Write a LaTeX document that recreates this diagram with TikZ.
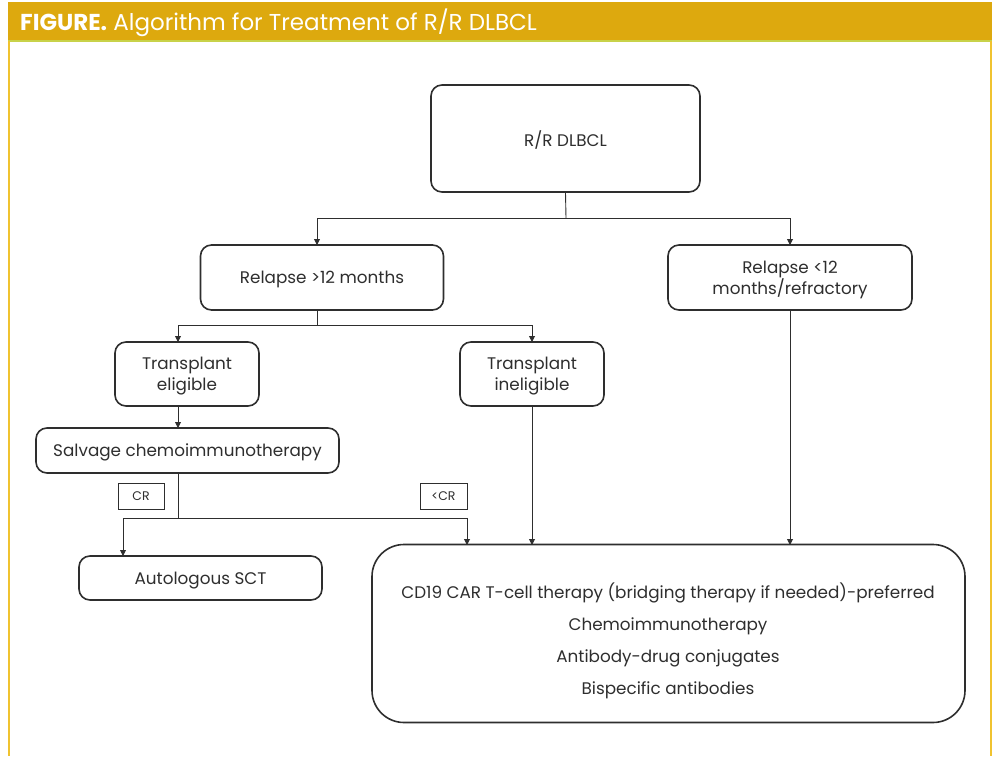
\documentclass[tikz,border=0pt]{standalone}
\usepackage{fontspec}
\setmainfont{Poppins}
\usetikzlibrary{arrows.meta}
\definecolor{hdr}{HTML}{DDA90E}
\definecolor{frm}{HTML}{F0C330}
\definecolor{hline}{HTML}{C8D24A}
\definecolor{ink}{HTML}{2E2E2E}
\begin{document}
\begin{tikzpicture}[x=1pt,y=-1pt,
  box/.style={draw=ink, line width=1.6pt, rounded corners=11pt, text=ink,
    font=\fontsize{16.8}{21}\selectfont, align=center, inner sep=0pt, text depth=0pt},
  bigbox/.style={box, rounded corners=32pt},
  bodytext/.style={text=ink, font=\fontsize{16.8}{32}\selectfont, align=center, inner sep=0pt},
  tag/.style={draw=ink, line width=0.7pt, text=ink, font=\fontsize{12.5}{14}\selectfont, inner sep=0pt, text depth=0pt},
  conn/.style={draw=ink, line width=0.9pt},
  arr/.style={conn, -{Triangle[length=6pt,width=6pt]}}]
\useasboundingbox (0,0) rectangle (994,756);
% frame
\fill[hdr] (8,2) rectangle (992,40);
\draw[hline, line width=1.5pt] (8,41) -- (992,41);
\draw[frm, line width=2pt] (9,41) -- (9,756);
\draw[frm, line width=2pt] (991,41) -- (991,756);
\node[anchor=west, text=white, inner sep=0pt, font=\fontsize{23}{26}\selectfont] (title) at (20,23)
  {\textbf{FIGURE.} Algorithm for Treatment of R/R DLBCL};
% nodes
\node[box, minimum width=269pt, minimum height=107pt] (top) at (565.5,138.5) {R/R DLBCL};
\node[box, minimum width=243pt, minimum height=65pt] (rgt) at (322,277.5) {Relapse >12 months};
\node[box, minimum width=244pt, minimum height=65pt] (rlt) at (790,277.5) {Relapse <12\\months/refractory};
\node[box, minimum width=144pt, minimum height=64pt] (elig) at (187,374) {Transplant\\eligible};
\node[box, minimum width=144pt, minimum height=64pt] (inel) at (532,374) {Transplant\\ineligible};
\node[box, minimum width=303pt, minimum height=45pt] (salv) at (187.5,450.5) {Salvage chemoimmunotherapy};
\node[box, minimum width=243pt, minimum height=44pt] (auto) at (200.5,578) {Autologous SCT};
\node[bigbox, minimum width=593pt, minimum height=178pt] (big) at (668.5,633.5) {};
\node[bodytext] (bigtxt) at (668,641) {CD19 CAR T-cell therapy (bridging therapy if needed)-preferred\\Chemoimmunotherapy\\Antibody-drug conjugates\\Bispecific antibodies};
\node[tag, minimum width=46pt, minimum height=26pt] (cr) at (141,496) {CR};
\node[tag, minimum width=47pt, minimum height=26pt] (lcr) at (443.5,496) {<CR};
% connectors
\coordinate (j1) at (566,218);
\coordinate (j2) at (317,325);
\coordinate (j3) at (178,518);
\draw[conn] (top.south) -- (j1);
\draw[arr] (j1) -- (317,218) -- (317,245);
\draw[arr] (j1) -- (790,218) -- (790,245);
\draw[conn] (317,310) -- (j2);
\draw[arr] (j2) -- (178,325) -- (178,342);
\draw[arr] (j2) -- (532,325) -- (532,342);
\draw[arr] (178,406) -- (178,428);
\draw[conn] (178,473) -- (j3);
\draw[arr] (j3) -- (123,518) -- (123,556);
\draw[arr] (j3) -- (467,518) -- (467,545);
\draw[arr] (inel.south) -- (532,545);
\draw[arr] (rlt.south) -- (790,545);
\end{tikzpicture}
\end{document}
